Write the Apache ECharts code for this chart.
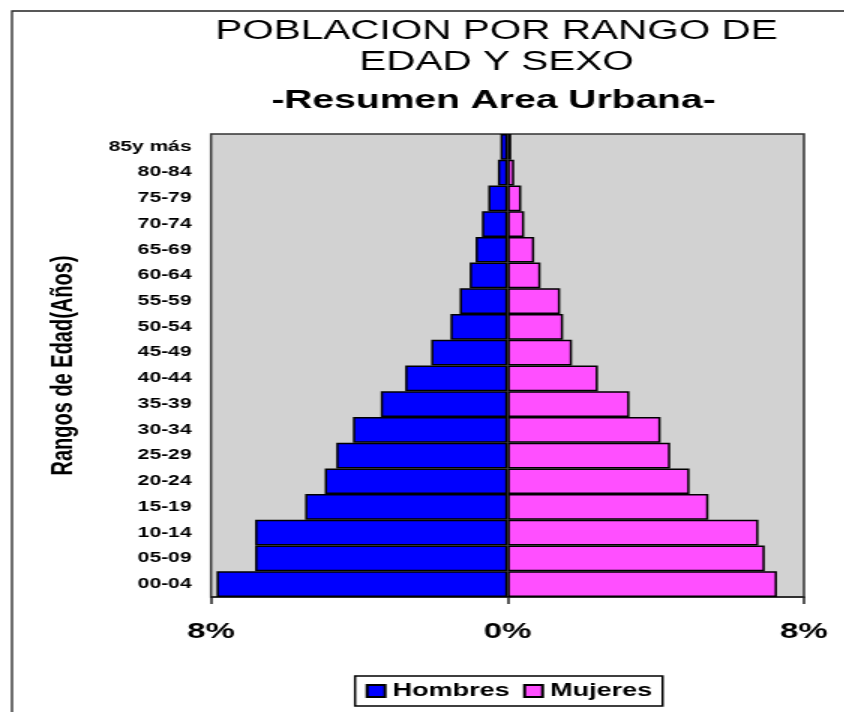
<!DOCTYPE html>
<html lang="es">
<head>
    <meta charset="UTF-8">
    <title>Poblacion por rango de edad y sexo</title>
    <script src="https://cdn.jsdelivr.net/npm/echarts@6/dist/echarts.min.js"></script>
</head>
<body style="margin: 0; background-color: white; overflow: hidden;">
<!-- el grafico original viene estirado a lo ancho, por eso el scaleX -->
<div id="chart" style="width: 563px; height: 712px; transform: scaleX(1.5); transform-origin: left top;"></div>

<script>
    // rangos de edad, de abajo hacia arriba
    const rangos = ['00-04', '05-09', '10-14', '15-19', '20-24', '25-29', '30-34', '35-39', '40-44',
        '45-49', '50-54', '55-59', '60-64', '65-69', '70-74', '75-79', '80-84', '85y más'];

    // porcentaje de la poblacion
    const hombres = [7.85, 6.81, 6.81, 5.46, 4.93, 4.62, 4.17, 3.42, 2.76,
        2.06, 1.54, 1.29, 1.02, 0.86, 0.69, 0.52, 0.26, 0.19];
    const mujeres = [7.27, 6.94, 6.77, 5.42, 4.91, 4.39, 4.13, 3.29, 2.44,
        1.74, 1.50, 1.42, 0.89, 0.72, 0.45, 0.37, 0.18, 0.10];

    const ejeX = [-8, 0, 8];

    const fuente = '"Liberation Sans", Arial, sans-serif';

    const myChart = echarts.init(document.getElementById('chart'));

    const option = {
        animation: false,
        title: [
            {
                text: 'POBLACION POR RANGO DE',
                left: 331, top: 17.7, padding: 0, textAlign: 'center',
                textStyle: { fontFamily: fuente, fontSize: 27, fontWeight: 'normal', color: '#000', lineHeight: 27 }
            },
            {
                text: 'EDAD Y SEXO',
                left: 331, top: 49.5, padding: 0, textAlign: 'center',
                textStyle: { fontFamily: fuente, fontSize: 27, fontWeight: 'normal', color: '#000', lineHeight: 27 }
            },
            {
                text: '-Resumen Area Urbana-',
                left: 329, top: 87.5, padding: 0, textAlign: 'center',
                textStyle: { fontFamily: fuente, fontSize: 26, fontWeight: 'bold', color: '#000', lineHeight: 26 }
            }
        ],
        graphic: [
            {
                type: 'rect',
                shape: { x: 8, y: 11, width: 700, height: 900 },
                style: { fill: null, stroke: '#222', lineWidth: 1.3 },
                silent: true
            }
        ],
        legend: {
            data: ['Hombres', 'Mujeres'],
            left: 236.7,
            top: 676,
            padding: [6, 7],
            itemGap: 9,
            itemWidth: 12,
            itemHeight: 12,
            icon: 'rect',
            backgroundColor: '#fff',
            borderColor: '#000',
            borderWidth: 1.5,
            textStyle: { fontFamily: fuente, fontSize: 18, fontWeight: 'bold', color: '#000' }
        },
        grid: {
            left: 140.67,
            right: 27,
            top: 134,
            bottom: 115,
            show: true,
            backgroundColor: '#d2d2d2',
            borderColor: '#333',
            borderWidth: 1.5
        },
        xAxis: {
            type: 'value',
            min: ejeX[0],
            max: ejeX[2],
            interval: 8,
            splitLine: { show: false },
            axisLine: { show: true, lineStyle: { color: '#222', width: 1.5 } },
            axisTick: { show: true, length: 7, lineStyle: { color: '#222', width: 1.5 } },
            axisLabel: {
                margin: 24,
                fontFamily: fuente,
                fontSize: 22,
                fontWeight: 'bold',
                color: '#000',
                formatter: function (v) { return Math.abs(v) + '%'; }
            }
        },
        yAxis: {
            type: 'category',
            data: rangos,
            name: 'Rangos de Edad(Años)',
            nameLocation: 'middle',
            nameRotate: 90,
            nameGap: 88,
            nameTextStyle: { fontFamily: fuente, fontSize: 20, fontWeight: 'bold', color: '#000' },
            axisLine: { show: false, onZero: false },
            axisTick: { show: false },
            axisLabel: {
                interval: 0,
                margin: 13,
                fontFamily: fuente,
                fontSize: 14,
                fontWeight: 'bold',
                color: '#000'
            }
        },
        series: [
            {
                name: 'Hombres',
                type: 'bar',
                data: hombres.map(v => -v),
                barGap: '-100%',
                barCategoryGap: '0%',
                itemStyle: { color: '#0000ff', borderColor: '#000', borderWidth: 1.5 }
            },
            {
                name: 'Mujeres',
                type: 'bar',
                data: mujeres,
                barGap: '-100%',
                barCategoryGap: '0%',
                itemStyle: { color: '#ff4fff', borderColor: '#000', borderWidth: 1.5 }
            }
        ]
    };

    myChart.setOption(option);
</script>
</body>
</html>
